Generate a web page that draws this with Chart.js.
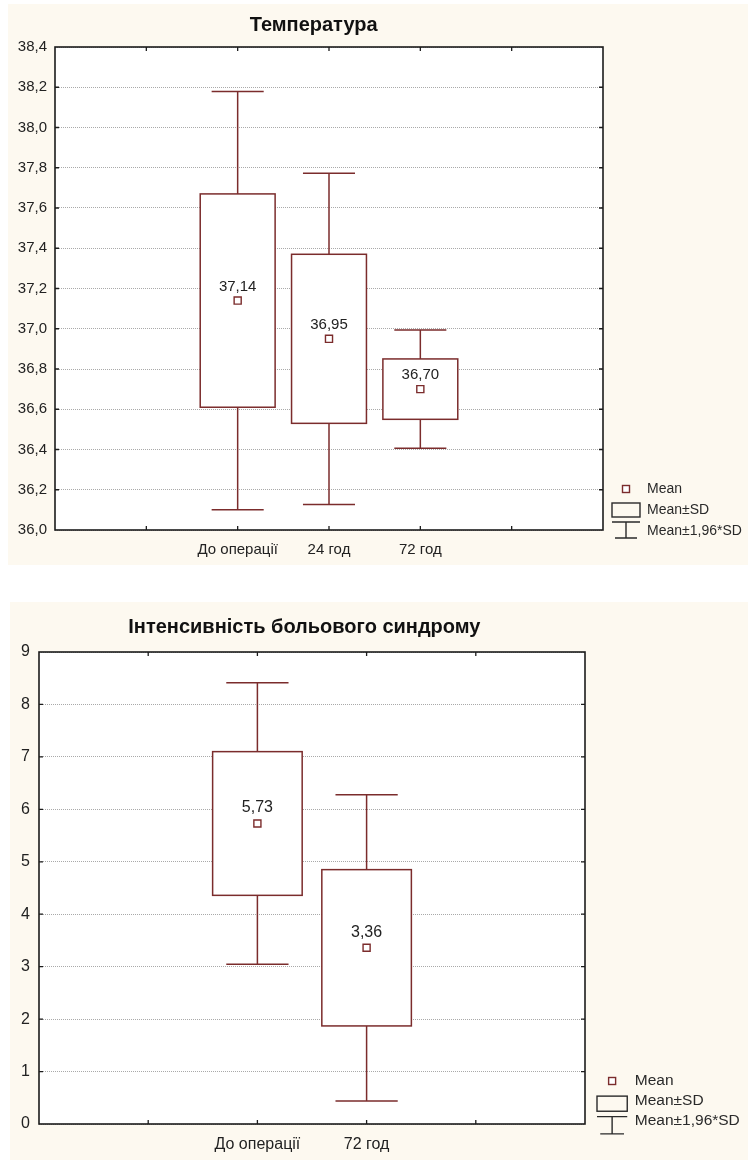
<!DOCTYPE html>
<html>
<head>
<meta charset="utf-8">
<script src="https://cdn.jsdelivr.net/npm/chart.js@4.4.1/dist/chart.umd.min.js"></script>
<style>
  html, body { margin: 0; padding: 0; background: #ffffff; }
  body { width: 748px; height: 1160px; position: relative; overflow: hidden; }
  .panel { position: absolute; background: #fdf9f0; }
  #panelTemp { left: 8px; top: 4px; width: 740px; height: 561px; }
  #panelPain { left: 10px; top: 602px; width: 738px; height: 558px; }
  .wrap { position: absolute; left: 0; width: 748px; }
  #wrapTemp { top: 0; height: 570px; }
  #wrapPain { top: 580px; height: 580px; }
</style>
</head>
<body>
<div class="panel" id="panelTemp"></div>
<div class="panel" id="panelPain"></div>
<div class="wrap" id="wrapTemp"><canvas id="chartTemp"></canvas></div>
<div class="wrap" id="wrapPain"><canvas id="chartPain"></canvas></div>
<script>
// ---- Температура ----
const tempTitle = 'Температура';
const tempCategories = ['До операції', '24 год', '72 год'];
const tempMeans = [37.14, 36.95, 36.70];
const tempSD = [0.53, 0.42, 0.15];
const tempYTicks = [36.0, 36.2, 36.4, 36.6, 36.8, 37.0, 37.2, 37.4, 37.6, 37.8, 38.0, 38.2, 38.4];

// ---- Інтенсивність больового синдрому ----
const painTitle = 'Інтенсивність больового синдрому';
const painCategories = ['До операції', '72 год'];
const painMeans = [5.73, 3.36];
const painSD = [1.37, 1.49];
const painYTicks = [0, 1, 2, 3, 4, 5, 6, 7, 8, 9];

const legendLabels = ['Mean', 'Mean±SD', 'Mean±1,96*SD'];
const whiskerFactor = 1.96;

const MAROON = '#7b2c2c';
const FONT = '"Liberation Sans", Arial, sans-serif';

const decimalComma = (v, d) => v.toFixed(d).replace('.', ',');

// White plot background
const plotBackground = {
  id: 'plotBackground',
  beforeDraw(chart) {
    const { ctx, chartArea: a } = chart;
    ctx.save();
    ctx.fillStyle = '#ffffff';
    ctx.fillRect(a.left, a.top, a.width, a.height);
    ctx.restore();
  }
};

// Mean±SD boxes and Mean±1.96*SD whiskers
const boxWhisker = {
  id: 'boxWhisker',
  beforeDatasetsDraw(chart, args, o) {
    const { ctx, scales: { x, y } } = chart;
    ctx.save();
    ctx.strokeStyle = o.color;
    ctx.lineWidth = o.lineWidth;
    o.means.forEach((m, i) => {
      const pos = o.firstSlot + i;
      const sd = o.sd[i];
      const xc = x.getPixelForValue(pos);
      const bl = x.getPixelForValue(pos - o.boxWidth / 2);
      const br = x.getPixelForValue(pos + o.boxWidth / 2);
      const cl = x.getPixelForValue(pos - o.capWidth / 2);
      const cr = x.getPixelForValue(pos + o.capWidth / 2);
      const yTop = y.getPixelForValue(m + sd);
      const yBot = y.getPixelForValue(m - sd);
      const yHi = y.getPixelForValue(m + whiskerFactor * sd);
      const yLo = y.getPixelForValue(m - whiskerFactor * sd);
      ctx.beginPath();
      ctx.moveTo(xc, yTop); ctx.lineTo(xc, yHi);
      ctx.moveTo(xc, yBot); ctx.lineTo(xc, yLo);
      ctx.moveTo(cl, yHi); ctx.lineTo(cr, yHi);
      ctx.moveTo(cl, yLo); ctx.lineTo(cr, yLo);
      ctx.stroke();
      ctx.fillStyle = '#ffffff';
      ctx.fillRect(bl, yTop, br - bl, yBot - yTop);
      ctx.strokeRect(bl, yTop, br - bl, yBot - yTop);
    });
    ctx.restore();
  },
  afterDatasetsDraw(chart, args, o) {
    const { ctx } = chart;
    const meta = chart.getDatasetMeta(0);
    ctx.save();
    ctx.fillStyle = o.textColor;
    ctx.font = o.labelFont;
    ctx.textAlign = 'center';
    ctx.textBaseline = 'middle';
    meta.data.forEach((pt, i) => {
      ctx.fillText(decimalComma(o.means[i], 2), pt.x, pt.y - o.labelOffset);
    });
    ctx.restore();
  }
};

// Plot frame with inward tick marks, title and legend
const frameTitleLegend = {
  id: 'frameTitleLegend',
  afterDraw(chart, args, o) {
    const { ctx, chartArea: a, scales: { x, y } } = chart;
    ctx.save();
    ctx.strokeStyle = '#1c1c1c';
    ctx.lineWidth = 1.6;
    ctx.strokeRect(a.left, a.top, a.width, a.height);
    ctx.lineWidth = 1.3;
    ctx.beginPath();
    x.ticks.forEach(t => {
      if (t.value <= x.min || t.value >= x.max) return;
      const px = x.getPixelForValue(t.value);
      ctx.moveTo(px, a.top); ctx.lineTo(px, a.top + 4);
      ctx.moveTo(px, a.bottom); ctx.lineTo(px, a.bottom - 4);
    });
    y.ticks.forEach(t => {
      if (t.value <= y.min || t.value >= y.max) return;
      const py = y.getPixelForValue(t.value);
      ctx.moveTo(a.left, py); ctx.lineTo(a.left + 4, py);
      ctx.moveTo(a.right, py); ctx.lineTo(a.right - 4, py);
    });
    ctx.stroke();

    // title
    ctx.fillStyle = '#111111';
    ctx.font = o.titleFont;
    ctx.textAlign = 'center';
    ctx.textBaseline = 'middle';
    ctx.fillText(o.title, a.left + a.width * o.titleAnchor, o.titleY);

    // legend
    const s = o.legendScale;
    const ox = a.right + o.legendDx;
    const oy = a.bottom + o.legendDy;
    ctx.strokeStyle = MAROON;
    ctx.lineWidth = 1.4;
    ctx.fillStyle = '#ffffff';
    ctx.fillRect(ox + 14 * s - 3.5, oy - 3.5, 7, 7);
    ctx.strokeRect(ox + 14 * s - 3.5, oy - 3.5, 7, 7);
    ctx.strokeStyle = '#2a2a2a';
    ctx.strokeRect(ox, oy + 14 * s, 28 * s, 14 * s);
    ctx.beginPath();
    ctx.moveTo(ox, oy + 33 * s); ctx.lineTo(ox + 28 * s, oy + 33 * s);
    ctx.moveTo(ox + 14 * s, oy + 33 * s); ctx.lineTo(ox + 14 * s, oy + 49 * s);
    ctx.moveTo(ox + 3 * s, oy + 49 * s); ctx.lineTo(ox + 25 * s, oy + 49 * s);
    ctx.stroke();
    ctx.fillStyle = '#2a2a2a';
    ctx.font = o.legendFont;
    ctx.textAlign = 'left';
    legendLabels.forEach((lbl, i) => {
      ctx.fillText(lbl, ox + 35 * s, oy + i * o.legendRowGap);
    });
    ctx.restore();
  }
};

function makeChart(canvasId, cfg) {
  const meanPoints = cfg.means.map((m, i) => ({ x: cfg.firstSlot + i, y: m }));
  return new Chart(document.getElementById(canvasId), {
    type: 'scatter',
    data: {
      datasets: [{
        label: 'Mean',
        data: meanPoints,
        pointStyle: 'rect',
        pointRadius: 5,
        pointHoverRadius: 5,
        pointBorderColor: MAROON,
        pointBackgroundColor: '#ffffff',
        pointBorderWidth: 1.4
      }]
    },
    options: {
      responsive: true,
      maintainAspectRatio: false,
      animation: false,
      devicePixelRatio: 1,
      events: [],
      layout: { padding: cfg.padding },
      scales: {
        x: {
          type: 'linear',
          min: 0,
          max: cfg.slots,
          grid: { display: false, drawTicks: false },
          border: { display: false },
          afterBuildTicks: s => { s.ticks = cfg.xSlots.map(v => ({ value: v })); },
          afterFit: s => { s.height = cfg.xAxisHeight; },
          ticks: {
            autoSkip: false,
            maxRotation: 0,
            padding: 11,
            color: '#222222',
            font: { family: FONT, size: cfg.fontSize },
            callback: v => cfg.categories[v - cfg.firstSlot] ?? ''
          }
        },
        y: {
          type: 'linear',
          min: cfg.yTicks[0],
          max: cfg.yTicks[cfg.yTicks.length - 1],
          afterBuildTicks: s => { s.ticks = cfg.yTicks.map(v => ({ value: v })); },
          afterFit: s => { s.width = cfg.axisWidth; },
          grid: { color: '#a9a9a9', lineWidth: 1, drawTicks: false },
          border: { display: false, dash: [1, 1] },
          ticks: {
            padding: cfg.tickPad,
            color: '#222222',
            font: { family: FONT, size: cfg.fontSize },
            callback: v => decimalComma(v, cfg.yDecimals)
          }
        }
      },
      plugins: {
        legend: { display: false },
        tooltip: { enabled: false },
        boxWhisker: {
          means: cfg.means,
          sd: cfg.sd,
          firstSlot: cfg.firstSlot,
          boxWidth: 0.82,
          capWidth: 0.57,
          color: MAROON,
          lineWidth: 1.5,
          textColor: '#222222',
          labelFont: cfg.fontSize + 'px ' + FONT,
          labelOffset: cfg.labelOffset
        },
        frameTitleLegend: {
          title: cfg.title,
          titleFont: 'bold 20px ' + FONT,
          titleAnchor: cfg.titleAnchor,
          titleY: cfg.titleY,
          legendDx: cfg.legendDx,
          legendDy: cfg.legendDy,
          legendScale: cfg.legendScale,
          legendRowGap: cfg.legendRowGap,
          legendFont: cfg.legendFontSize + 'px ' + FONT
        }
      }
    },
    plugins: [plotBackground, boxWhisker, frameTitleLegend]
  });
}

makeChart('chartTemp', {
  title: tempTitle,
  categories: tempCategories,
  means: tempMeans,
  sd: tempSD,
  yTicks: tempYTicks,
  yDecimals: 1,
  slots: 6,
  xSlots: [0, 1, 2, 3, 4, 5, 6],
  firstSlot: 2,
  padding: { left: 0, top: 47, right: 145, bottom: 0 },
  xAxisHeight: 40,
  axisWidth: 55,
  tickPad: 8,
  fontSize: 15,
  labelOffset: 14,
  titleAnchor: 0.472,
  titleY: 25,
  legendDx: 9,
  legendDy: -41,
  legendScale: 1,
  legendRowGap: 21,
  legendFontSize: 14
});

makeChart('chartPain', {
  title: painTitle,
  categories: painCategories,
  means: painMeans,
  sd: painSD,
  yTicks: painYTicks,
  yDecimals: 0,
  slots: 5,
  xSlots: [0, 1, 2, 3, 4, 5],
  firstSlot: 2,
  padding: { left: 0, top: 72, right: 163, bottom: 0 },
  xAxisHeight: 36,
  axisWidth: 39,
  tickPad: 9,
  fontSize: 16,
  labelOffset: 15.5,
  titleAnchor: 0.486,
  titleY: 47,
  legendDx: 12,
  legendDy: -43,
  legendScale: 1.08,
  legendRowGap: 20,
  legendFontSize: 15.5
});
</script>
</body>
</html>
